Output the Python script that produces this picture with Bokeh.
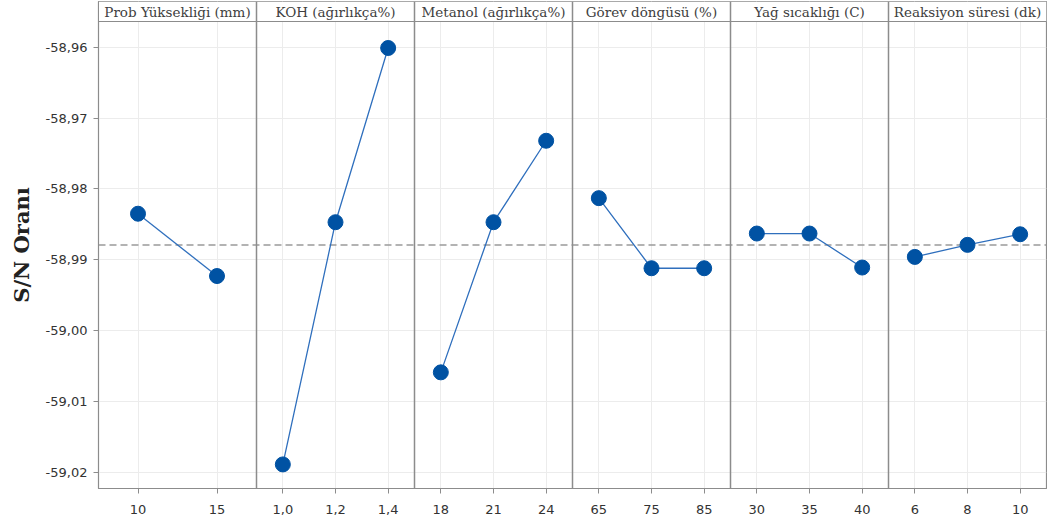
import numpy as np
from bokeh.plotting import figure
from bokeh.models import FixedTicker, Span, CustomJSTickFormatter, Range1d
from bokeh.embed import file_html
from bokeh.resources import INLINE
from bokeh.core.properties import value

# ---------------- data ----------------
factors = ["Prob Yüksekliği (mm)", "KOH (ağırlıkça%)", "Metanol (ağırlıkça%)",
           "Görev döngüsü (%)", "Yağ sıcaklığı (C)", "Reaksiyon süresi (dk)"]
prob_levels = ["10", "15"]
prob_sn = [-58.9835, -58.9923]
koh_levels = ["1,0", "1,2", "1,4"]
koh_sn = [-59.0189, -58.9847, -58.9601]
metanol_levels = ["18", "21", "24"]
metanol_sn = [-59.0059, -58.9847, -58.9732]
gorev_levels = ["65", "75", "85"]
gorev_sn = [-58.9813, -58.9912, -58.9912]
yag_levels = ["30", "35", "40"]
yag_sn = [-58.9863, -58.9863, -58.9911]
reak_levels = ["6", "8", "10"]
reak_sn = [-58.9896, -58.9879, -58.9864]
y_ticks = [-59.02, -59.01, -59.00, -58.99, -58.98, -58.97, -58.96]

all_levels = [prob_levels, koh_levels, metanol_levels, gorev_levels, yag_levels, reak_levels]
all_sn = [prob_sn, koh_sn, metanol_sn, gorev_sn, yag_sn, reak_sn]
grand_mean = float(np.mean([np.mean(s) for s in all_sn]))

# ---------------- layout ----------------
W, H = 1047, 519
MB_L, MB_R, MB_T, MB_B = 98, 1, 1, 31
frame_h = H - MB_T - MB_B
header_px = 20
PW = 6.0  # panel width in data units
npan = len(factors)

ylo, yhi = -59.0223, -58.95636
ytop = yhi + header_px * (yhi - ylo) / (frame_h - header_px)

p = figure(width=W, height=H, output_backend="svg", toolbar_location=None,
           x_range=Range1d(0, PW * npan), y_range=Range1d(ylo, ytop),
           min_border_left=MB_L, min_border_right=MB_R, min_border_top=MB_T,
           min_border_bottom=MB_B)
p.outline_line_color = "#8c8c8c"
p.outline_line_width = 1.2

# x positions
xticks, xlabels = [], {}
panel_x = []
for i, levs in enumerate(all_levels):
    n = len(levs)
    xs = [PW * i + PW * (j + 0.5) / n for j in range(n)]
    panel_x.append(xs)
    for x, l in zip(xs, levs):
        xticks.append(x)
        xlabels[x] = l

p.xaxis.ticker = FixedTicker(ticks=xticks)
p.xaxis.major_label_overrides = xlabels
p.yaxis.ticker = FixedTicker(ticks=y_ticks)
p.yaxis.formatter = CustomJSTickFormatter(code="return tick.toFixed(2).replace('.', ',');")

for ax in (p.xaxis, p.yaxis):
    ax.axis_line_color = "#8c8c8c"
    ax.major_tick_line_color = "#8c8c8c"
    ax.major_tick_out = 5
    ax.major_tick_in = 0
    ax.minor_tick_line_color = None
    ax.major_label_text_font = "DejaVu Sans"
    ax.major_label_text_font_size = "13px"
    ax.major_label_text_color = "#333333"
p.xaxis.major_label_standoff = 11
p.yaxis.major_label_standoff = 6

p.yaxis.axis_label = "S/N Oranı"
p.yaxis.axis_label_text_font = "DejaVu Serif"
p.yaxis.axis_label_text_font_style = "bold"
p.yaxis.axis_label_text_font_size = "21px"
p.yaxis.axis_label_text_color = "#222222"
p.yaxis.axis_label_standoff = 9

p.grid.grid_line_color = "#ececec"
p.grid.grid_line_width = 1

# header background (covers grid)
p.quad(left=0, right=PW * npan, bottom=yhi, top=ytop, fill_color="white", line_color=None)

# mean line
p.line([0, PW * npan], [grand_mean, grand_mean], line_color="#9a9a9a",
       line_width=1.5, line_dash="7 4")

# series
for xs, sn in zip(panel_x, all_sn):
    p.line(xs, sn, line_color="#2f6fbd", line_width=1.3)
    p.scatter(xs, sn, size=15, fill_color="#0052a3", line_color="#0052a3")

# header texts
p.text(x=[PW * i + PW / 2 for i in range(npan)], y=[(yhi + ytop) / 2] * npan, text=factors,
       text_align="center", text_baseline="middle", text_font=value("DejaVu Serif"),
       text_font_size="13.5px", text_color="#404040")

# header line and panel separators
p.add_layout(Span(location=yhi, dimension="width", line_color="#8c8c8c", line_width=1.2))
for i in range(1, npan):
    p.add_layout(Span(location=PW * i, dimension="height", line_color="#8c8c8c", line_width=1.5))

open("out.html", "w").write(file_html(p, INLINE))
